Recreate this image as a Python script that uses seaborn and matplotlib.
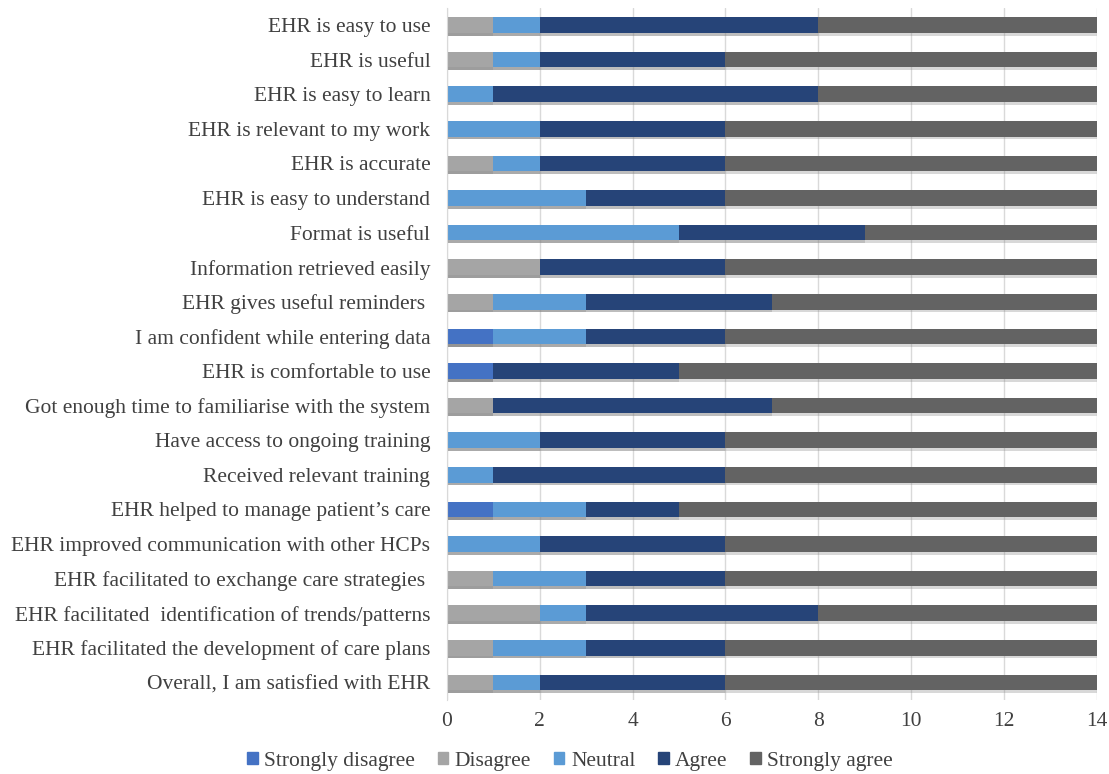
import matplotlib.pyplot as plt
import matplotlib.patches as mpatches
import matplotlib.patheffects as pe
import pandas as pd
import seaborn as sns

items = [
    "EHR is easy to use",
    "EHR is useful",
    "EHR is easy to learn",
    "EHR is relevant to my work",
    "EHR is accurate",
    "EHR is easy to understand",
    "Format is useful",
    "Information retrieved easily",
    "EHR gives useful reminders ",
    "I am confident while entering data",
    "EHR is comfortable to use",
    "Got enough time to familiarise with the system",
    "Have access to ongoing training",
    "Received relevant training",
    "EHR helped to manage patient\u2019s care",
    "EHR improved communication with other HCPs",
    "EHR facilitated to exchange care strategies ",
    "EHR facilitated  identification of trends/patterns",
    "EHR facilitated the development of care plans",
    "Overall, I am satisfied with EHR",
]

strongly_disagree = [0, 0, 0, 0, 0, 0, 0, 0, 0, 1, 1, 0, 0, 0, 1, 0, 0, 0, 0, 0]
disagree          = [1, 1, 0, 0, 1, 0, 0, 2, 1, 0, 0, 1, 0, 0, 0, 0, 1, 2, 1, 1]
neutral           = [1, 1, 1, 2, 1, 3, 5, 0, 2, 2, 0, 0, 2, 1, 2, 2, 2, 1, 2, 1]
agree             = [6, 4, 7, 4, 4, 3, 4, 4, 4, 3, 4, 6, 4, 5, 2, 4, 3, 5, 3, 4]
strongly_agree    = [6, 8, 6, 8, 8, 8, 5, 8, 7, 8, 9, 7, 8, 8, 9, 8, 8, 6, 8, 8]

levels = ["Strongly disagree", "Disagree", "Neutral", "Agree", "Strongly agree"]
colors = ["#4472C4", "#A5A5A5", "#5B9BD5", "#264478", "#636363"]

df = pd.DataFrame({
    "Strongly disagree": strongly_disagree,
    "Disagree": disagree,
    "Neutral": neutral,
    "Agree": agree,
    "Strongly agree": strongly_agree,
}, index=items)

# cumulative totals, drawn from the outermost level inwards to stack
cum = df.cumsum(axis=1)

sns.set_style("white")
plt.rcParams["font.family"] = ["Liberation Serif", "DejaVu Serif"]

fig = plt.figure(figsize=(11.09, 7.74), dpi=100)
ax = fig.add_axes([0.403, 0.096, 0.586, 0.894])

for level, color in reversed(list(zip(levels, colors))):
    sns.barplot(x=cum[level].values, y=items, orient="h", color=color,
                width=0.45, saturation=1, linewidth=0, ax=ax, zorder=2)

shadow = [pe.SimplePatchShadow(offset=(0, -2), shadow_rgbFace="#808080", alpha=0.3),
          pe.Normal()]
for bar in ax.patches:
    bar.set_path_effects(shadow)

ax.set_xlim(0, 14)
ax.set_xticks(range(0, 15, 2))
ax.xaxis.grid(True, color="#D9D9D9", linewidth=1, zorder=0)
ax.set_axisbelow(True)
for side in ["top", "right", "bottom"]:
    ax.spines[side].set_visible(False)
ax.spines["left"].set_color("#D9D9D9")
ax.tick_params(axis="both", length=0, labelsize=15.5, colors="#404040")
ax.tick_params(axis="y", pad=12)
ax.tick_params(axis="x", pad=9)
ax.set_xlabel("")
ax.set_ylabel("")

handles = [mpatches.Patch(color=c, label=l) for l, c in zip(levels, colors)]
fig.legend(handles=handles, loc="lower center", bbox_to_anchor=(0.514, -0.021),
           ncol=5, frameon=False, fontsize=15.5, handlelength=0.5, handleheight=0.5,
           handletextpad=0.3, columnspacing=1.05, labelcolor="#404040")

plt.savefig("out.png", dpi=100)
